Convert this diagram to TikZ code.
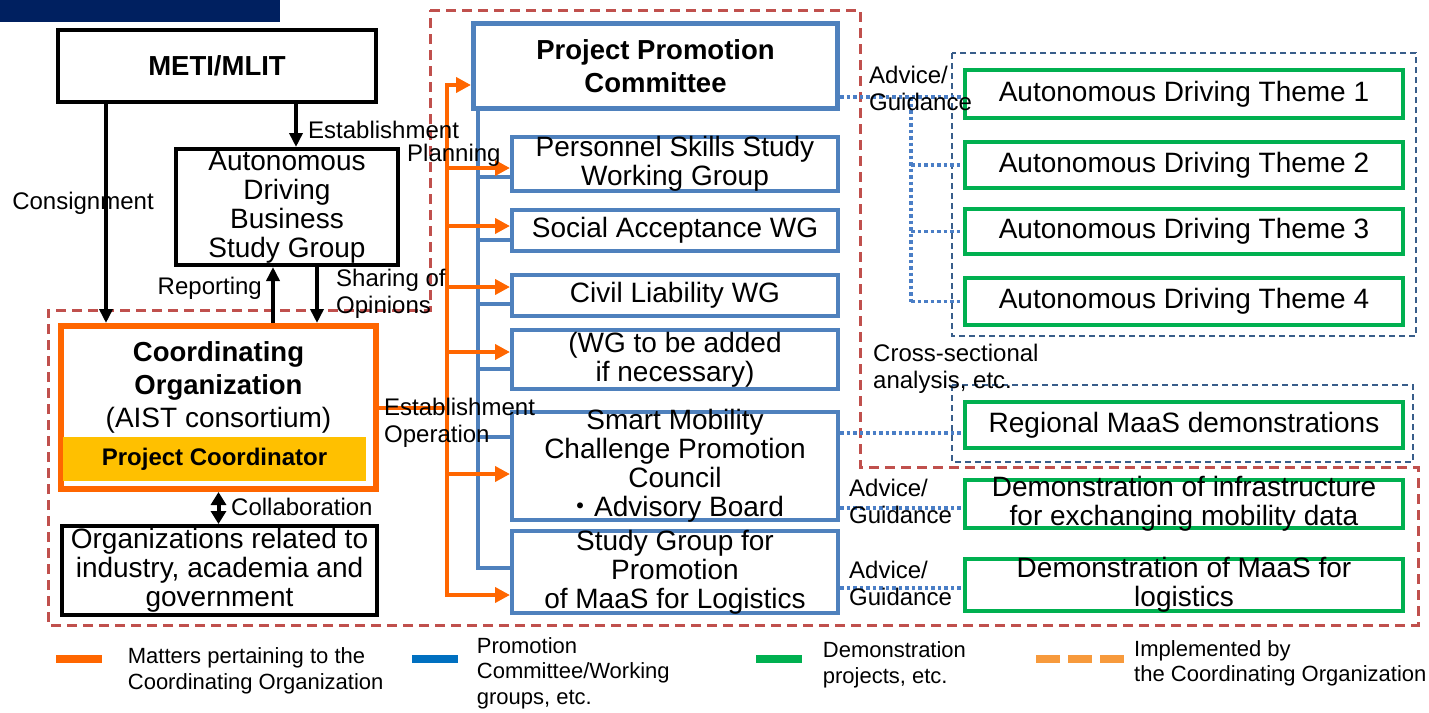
\documentclass[tikz,border=0pt]{standalone}
\usepackage{fontspec}
\setmainfont{Liberation Sans}
\newfontfamily\cjk{Noto Sans CJK JP}
\usetikzlibrary{positioning}
\usetikzlibrary{arrows.meta}

\definecolor{orgOrange}{HTML}{FF6600}
\definecolor{wgBlue}{HTML}{4F81BD}
\definecolor{demoGreen}{HTML}{00B050}
\definecolor{grpRed}{HTML}{C0504D}
\definecolor{grpNavy}{HTML}{385D8A}
\definecolor{dotBlue}{HTML}{4A7EC6}
\definecolor{pcGold}{HTML}{FFC000}
\definecolor{headNavy}{HTML}{002060}
\definecolor{legBlue}{HTML}{0070C0}
\definecolor{legDashOrange}{HTML}{F79A3C}

\newcommand{\boxfont}{\fontsize{28}{29}\selectfont}
\newcommand{\titlefont}{\fontsize{27.5}{33}\selectfont\bfseries}
\newcommand{\lblfont}{\fontsize{24}{27}\selectfont}
\newcommand{\legfont}{\fontsize{22}{25.5}\selectfont}

\tikzset{
    objBlack/.style={rectangle, draw=black, line width=4pt, align=center, inner xsep=0pt, inner ysep=-6pt, font=\boxfont},
    objCoord/.style={rectangle, draw=orgOrange, line width=6pt, inner sep=0pt},
    objBlue/.style={rectangle, draw=wgBlue, line width=4pt, align=center, inner xsep=0pt, inner ysep=-6pt, font=\boxfont, minimum width=326pt},
    objGreen/.style={rectangle, draw=demoGreen, line width=4pt, align=center, inner xsep=0pt, inner ysep=-6pt, font=\boxfont, minimum width=438pt},
    groupRed/.style={draw=grpRed, line width=3pt, dash pattern=on 10pt off 6pt},
    groupNavy/.style={draw=grpNavy, line width=1.5pt, dash pattern=on 6pt off 4pt},
    link/.style={draw=dotBlue, line width=3.5pt, dash pattern=on 3.5pt off 3pt},
    arrow/.style={line width=4pt, -{Triangle[length=14pt, width=13pt]}},
    biarrow/.style={line width=4pt, {Triangle[length=13pt, width=15pt]}-{Triangle[length=13pt, width=15pt]}},
    oarrow/.style={draw=orgOrange, line width=4pt, -{Triangle[length=15pt, width=15pt]}},
    oline/.style={draw=orgOrange, line width=4pt, line cap=rect},
    bline/.style={draw=wgBlue, line width=4pt, line cap=rect},
    lbl/.style={font=\lblfont, align=left, inner sep=0pt},
    legBar/.style={rectangle, inner sep=0pt, minimum width=46pt, minimum height=8pt},
    legText/.style={font=\legfont, align=left, inner sep=0pt}
}

\begin{document}
\begin{tikzpicture}[x=1pt, y=-1pt]
    \useasboundingbox (0,0) rectangle (1429,712);
    \fill[headNavy] (0,0) rectangle (280,22);

    % groups
    \draw[groupRed] (430,10) -- (860,10) -- (860,467) -- (1418,467) -- (1418,625) -- (48,625) -- (48,310) -- (430,310) -- cycle;
    \draw[groupNavy] (952,53) rectangle (1416,336);
    \draw[groupNavy] (952,385) rectangle (1413,462);

    % left column
    \node (meti) [objBlack, font=\titlefont, minimum width=318pt, minimum height=72pt] at (217,66) {METI/MLIT};
    \node (adbsg) [objBlack, minimum width=222pt, minimum height=116pt] at (287,207) {Autonomous\\Driving\\Business\\Study Group};
    \node (coord) [objCoord, minimum width=315pt, minimum height=163pt] at (218.5,407.5) {};
    \node (coordtxt) [align=center, inner sep=0pt, font=\titlefont] at (218.5,387) {Coordinating\\Organization\\\mdseries\fontsize{28}{33}\selectfont(AIST consortium)};
    \node (pcoord) [rectangle, fill=pcGold, inner sep=0pt, minimum width=303pt, minimum height=44pt, font=\fontsize{24}{26}\selectfont\bfseries] at (214.5,459) {Project Coordinator};
    \node (orgs) [objBlack, minimum width=315pt, minimum height=89pt] at (219.5,570.5) {Organizations related to\\industry, academia and\\government};

    % committee and working groups
    \node (ppc) [objBlue, line width=5pt, font=\fontsize{27.5}{33}\selectfont\bfseries, minimum width=364pt, minimum height=85pt] at (655.5,66) {Project Promotion\\Committee};
    \node (wg1) [objBlue, minimum height=54pt] at (675,164) {Personnel Skills Study\\Working Group};
    \node (wg2) [objBlue, minimum height=41pt] at (675,230.5) {Social Acceptance WG};
    \node (wg3) [objBlue, minimum height=41pt] at (675,295.5) {Civil Liability WG};
    \node (wg4) [objBlue, minimum height=59pt] at (675,359.5) {(WG to be added\\if necessary)};
    \node (wg5) [objBlue, minimum height=108pt] at (675,466) {Smart Mobility\\Challenge Promotion\\Council\\{\cjk ・}Advisory Board};
    \node (wg6) [objBlue, minimum height=82pt] at (675,572) {Study Group for\\Promotion\\of MaaS for Logistics};

    % demonstration projects
    \node (theme1) [objGreen, minimum height=48pt] at (1184,94) {Autonomous Driving Theme 1};
    \node (theme2) [objGreen, minimum height=46pt] at (1184,165) {Autonomous Driving Theme 2};
    \node (theme3) [objGreen, minimum height=45pt] at (1184,231.5) {Autonomous Driving Theme 3};
    \node (theme4) [objGreen, minimum height=47pt] at (1184,301.5) {Autonomous Driving Theme 4};
    \node (regional) [objGreen, minimum height=46pt] at (1184,425) {Regional MaaS demonstrations};
    \node (demoinfra) [objGreen, minimum height=48pt] at (1184,504) {Demonstration of infrastructure\\for exchanging mobility data};
    \node (demolog) [objGreen, minimum height=52pt] at (1184,585) {Demonstration of MaaS for\\logistics};

    % blue tree
    \coordinate (bbus) at (478,0);
    \foreach \nd/\dy in {wg1/-13, wg2/-9.5, wg3/-8.5, wg4/-9.5, wg5/29, wg6/4} {
        \coordinate (btip) at ([yshift=\dy pt]\nd.west);
        \draw[bline] (bbus |- btip) -- (btip);
    }
    \coordinate (bend) at ([yshift=4pt]wg6.west);
    \draw[bline] (ppc.south -| bbus) -- (bbus |- bend);

    % orange tree
    \coordinate (obus) at (447,0);
    \coordinate (otop) at ([yshift=-19pt]ppc.west);
    \coordinate (obot) at ([yshift=-23pt]wg6.west);
    \draw[oline] (obus |- otop) -- (obus |- obot);
    \draw[oline] (coord.east) -- (coord.east -| obus);
    \foreach \nd/\dy in {ppc/-19, wg1/-4, wg2/4.5, wg3/8.5, wg4/7.5, wg5/-8, wg6/-23} {
        \coordinate (otip) at ([yshift=\dy pt]\nd.west);
        \draw[oarrow] (obus |- otip) -- (otip);
    }

    % black arrows
    \coordinate (consX) at (106,0);
    \coordinate (estX) at (296,0);
    \coordinate (repX) at (273,0);
    \coordinate (shrX) at (317,0);
    \draw[arrow] (meti.south -| consX) -- (coord.north -| consX);
    \draw[arrow] (meti.south -| estX) -- (adbsg.north -| estX);
    \draw[arrow] (coord.north -| repX) -- (adbsg.south -| repX);
    \draw[arrow] (adbsg.south -| shrX) -- (coord.north -| shrX);
    \draw[biarrow] (coord.south) -- (orgs.north -| coord.south);

    % dotted links
    \coordinate (t1tip) at ([yshift=-3pt]theme1.west);
    \draw[link] (ppc.east |- t1tip) -- (t1tip);
    \coordinate (tbus) at (911,0);
    \draw[link] (tbus |- t1tip) -- (tbus |- theme4.west);
    \foreach \t in {theme2, theme3, theme4}
        \draw[link] (tbus |- \t.west) -- (\t.west);
    \coordinate (rtip) at ([yshift=-8pt]regional.west);
    \draw[link] (wg5.east |- rtip) -- (rtip);
    \coordinate (itip) at ([yshift=-4pt]demoinfra.west);
    \draw[link] (wg5.east |- itip) -- (itip);
    \coordinate (ltip) at ([yshift=-3pt]demolog.west);
    \draw[link] (wg6.east |- ltip) -- (ltip);

    % labels
    \node (lblCons) [lbl] at (83,203) {Consignment};
    \node (lblEst) [lbl, anchor=west] at (308,130) {Establishment};
    \node (lblPlan) [lbl, anchor=west] at (407,155) {Planning};
    \node (lblRep) [lbl, anchor=east] at (262,288) {Reporting};
    \node (lblShr) [lbl, anchor=west] at (336,294) {Sharing of\\Opinions};
    \node (lblEstOp) [lbl, anchor=west] at (384,423) {Establishment\\Operation};
    \node (lblColl) [lbl, anchor=west] at (231,507) {Collaboration};
    \node (lblAdv1) [lbl, anchor=west] at (869,88) {Advice/\\Guidance};
    \node (lblAdv2) [lbl, anchor=west] at (849,501) {Advice/\\Guidance};
    \node (lblAdv3) [lbl, anchor=west] at (849,583) {Advice/\\Guidance};
    \node (lblCross) [lbl, anchor=west] at (873,369) {Cross-sectional\\analysis, etc.};

    % legend
    \node (legO) [legBar, fill=orgOrange] at (78.5,658.5) {};
    \node (legOtxt) [legText, right=26pt of legO, yshift=-12.5pt] {Matters pertaining to the\\Coordinating Organization};
    \node (legB) [legBar, fill=legBlue] at (434.5,658.5) {};
    \node (legBtxt) [legText, right=19pt of legB, yshift=-14.5pt] {Promotion\\Committee/Working\\groups, etc.};
    \node (legG) [legBar, fill=demoGreen] at (778.5,658.5) {};
    \node (legGtxt) [legText, right=21pt of legG, yshift=-6.5pt] {Demonstration\\projects, etc.};
    \draw[draw=legDashOrange, line width=8pt, dash pattern=on 24pt off 8pt] (1036,658.5) -- (1124,658.5) coordinate (legD);
    \node (legDtxt) [legText, right=10pt of legD, yshift=-5pt] {Implemented by\\the Coordinating Organization};

\end{tikzpicture}
\end{document}
